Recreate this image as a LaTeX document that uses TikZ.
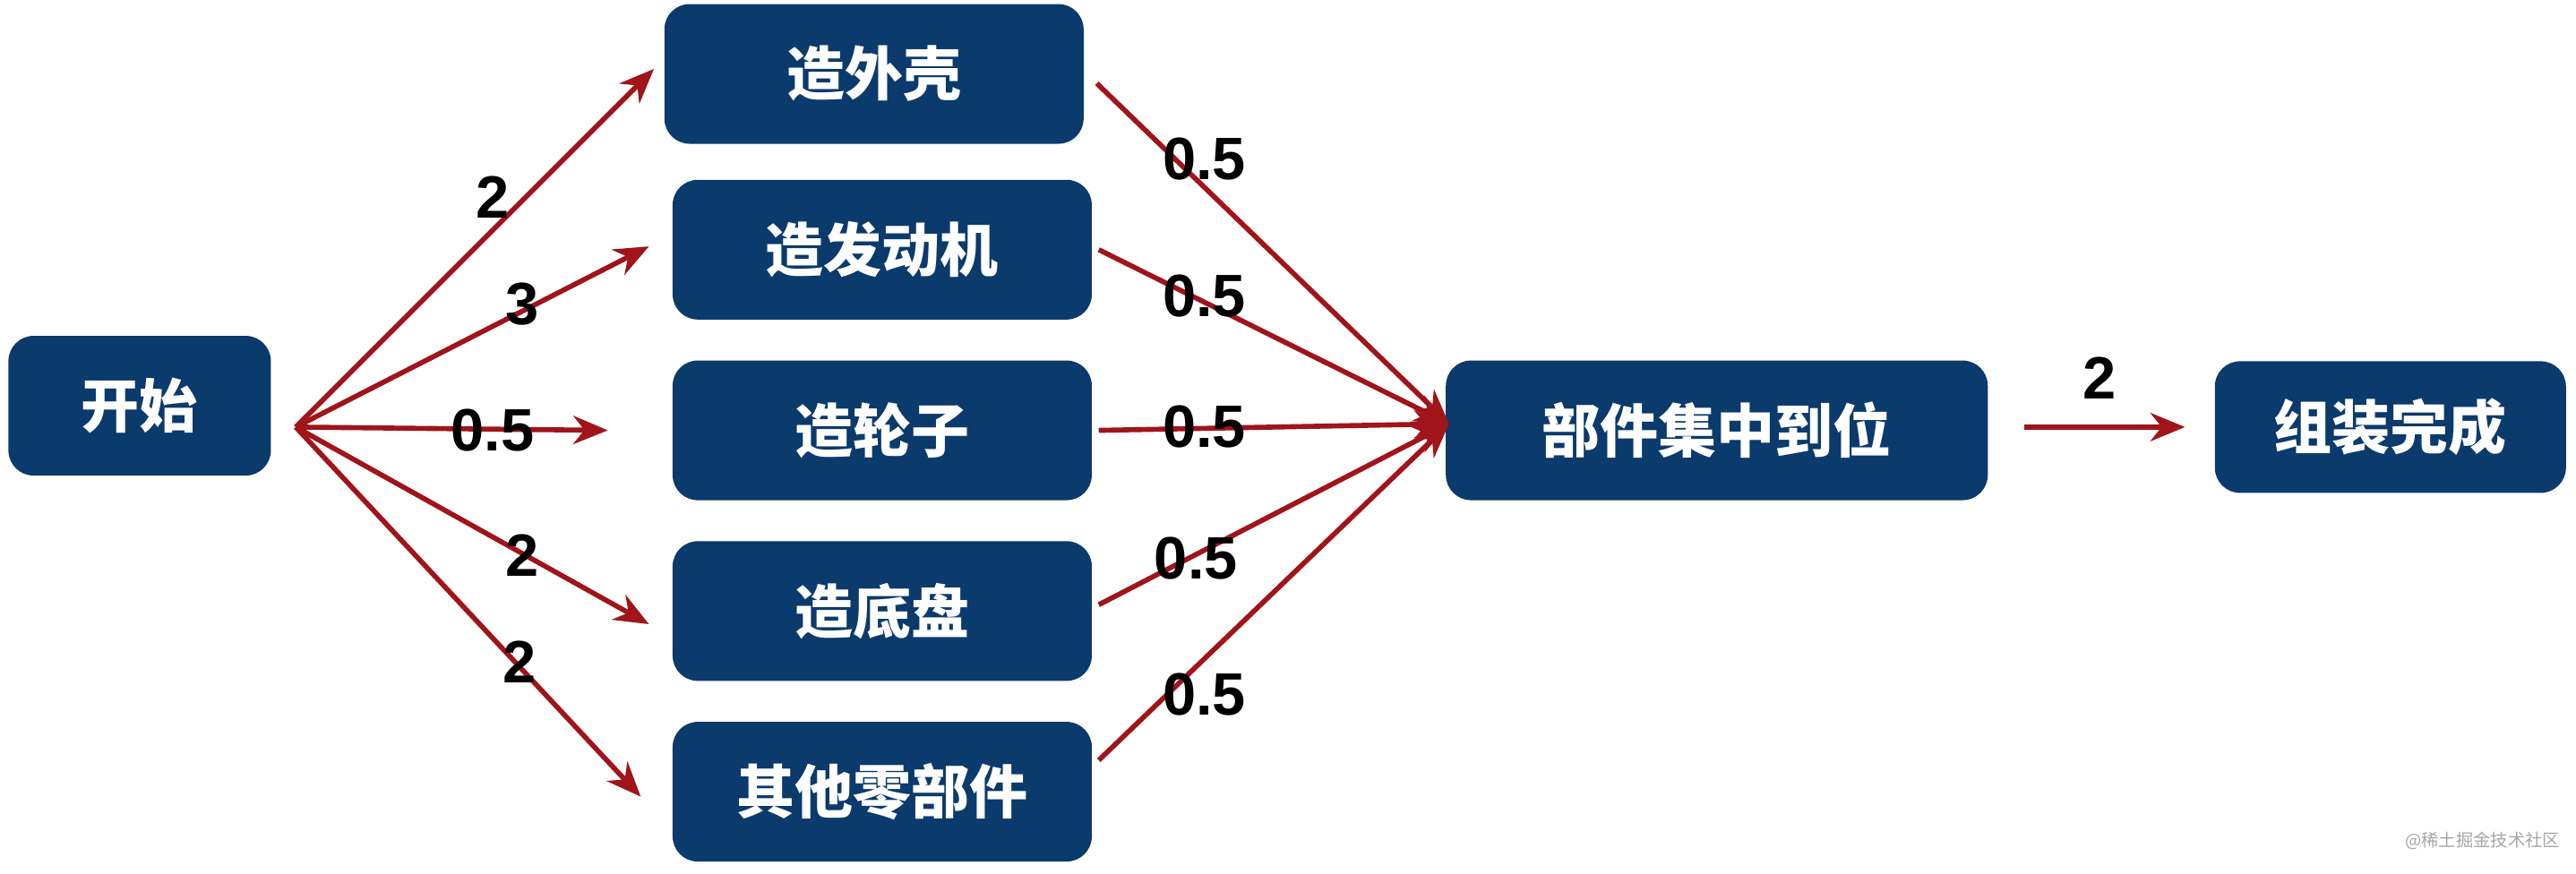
\documentclass[tikz,border=0pt]{standalone}
\usepackage{fontspec}
\setmainfont{Liberation Sans}
\newfontfamily\cjk{Noto Sans CJK SC}
\usetikzlibrary{arrows.meta}
\definecolor{boxblue}{HTML}{0B3A6C}
\definecolor{arrred}{HTML}{A0141A}
\begin{document}
\begin{tikzpicture}[x=0.01834cm,y=-0.01834cm,
 box/.style={fill=boxblue,rounded corners=8pt,text=white,font=\cjk\bfseries\fontsize{18.5}{20}\selectfont,inner sep=0pt},
 arr/.style={draw=arrred,line width=1.6pt,-{Stealth[length=11pt,width=9pt]}},
 lab/.style={font=\bfseries\fontsize{19}{21}\selectfont,text=black}]
\useasboundingbox (0,0) rectangle (1568,532);
\node[box,minimum width=2.93cm,minimum height=1.56cm] (s) at (85,247) {开始};
\node[box,minimum width=4.68cm,minimum height=1.56cm] (a) at (532,45) {造外壳};
\node[box,minimum width=4.68cm,minimum height=1.56cm] (b) at (537,152) {造发动机};
\node[box,minimum width=4.68cm,minimum height=1.56cm] (c) at (537,262) {造轮子};
\node[box,minimum width=4.68cm,minimum height=1.56cm] (d) at (537,372) {造底盘};
\node[box,minimum width=4.68cm,minimum height=1.56cm] (e) at (537,482) {其他零部件};
\node[box,minimum width=6.05cm,minimum height=1.56cm] (m) at (1045,262) {部件集中到位};
\node[box,minimum width=3.92cm,minimum height=1.47cm] (f) at (1455,260) {组装完成};
\coordinate (so) at (180,260);
\coordinate (mi) at (882,258);
\draw[arr] (so) -- (398,42);
\draw[arr] (so) -- (395,150);
\draw[arr] (so) -- (370,262);
\draw[arr] (so) -- (395,380);
\draw[arr] (so) -- (390,485);
\draw[arr] ([xshift=4pt,yshift=-3pt]a.east) -- (mi);
\draw[arr] ([xshift=2pt]b.east) -- (mi);
\draw[arr] ([xshift=2pt]c.east) -- (mi);
\draw[arr] ([xshift=2pt,yshift=2pt]d.east) -- (mi);
\draw[arr] ([xshift=2pt,yshift=10pt]e.east) -- (mi);
\draw[arr] (1232,260) -- (1330,260);
\node[lab] at (300,120) {2};
\node[lab] at (318,185) {3};
\node[lab] at (300,262) {0.5};
\node[lab] at (318,338) {2};
\node[lab] at (316,403) {2};
\node[lab] at (733,97) {0.5};
\node[lab] at (733,180) {0.5};
\node[lab] at (733,260) {0.5};
\node[lab] at (728,340) {0.5};
\node[lab] at (733,423) {0.5};
\node[lab] at (1278,230) {2};
\node[font=\cjk\fontsize{5.5}{6}\selectfont,text=gray!70,anchor=east] at (1565,512) {@稀土掘金技术社区};
\end{tikzpicture}
\end{document}
